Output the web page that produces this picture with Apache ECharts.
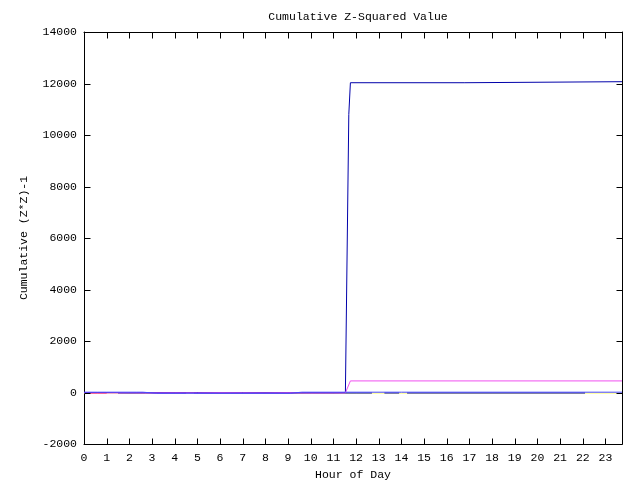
<!DOCTYPE html>
<html>
<head>
<meta charset="utf-8">
<script src="https://cdn.jsdelivr.net/npm/echarts@6/dist/echarts.min.js"></script>
<style>html,body{margin:0;padding:0;background:#fff}#c{width:640px;height:480px}</style>
</head>
<body>
<div id="c"></div>
<script>
// ---- data (hour of day, cumulative value) ----
const titleText = 'Cumulative Z-Squared Value';
const xName = 'Hour of Day';
const yName = 'Cumulative (Z*Z)-1';
const xTickLabels = ['0','1','2','3','4','5','6','7','8','9','10','11','12','13','14','15','16','17','18','19','20','21','22','23'];
const yTickValues = [-2000, 0, 2000, 4000, 6000, 8000, 10000, 12000, 14000];
const xMin = 0, xMax = 23.73, yMin = -2000, yMax = 14000;

const mainHours  = [0, 2, 4, 6, 8, 10, 11, 11.53, 11.68, 11.75, 16.8, 16.82, 23.73];
const mainValues = [0, -5, -5, -8, -8, -5, -5, 0, 10800, 12030, 12030, 12070, 12070];

const magentaHours  = [0, 1, 2, 3, 4, 5, 6, 7, 8, 9, 10, 11, 11.53, 11.75, 23.73];
const magentaValues = [-18, -18, -12, -18, -15, -18, -12, -15, -18, -12, -18, -15, -15, 450, 450];

const lightBlueHours  = [0, 0.6, 1.0, 2.3, 2.6, 3.2, 9.1, 9.6, 11.53, 14, 18, 23.73];
const lightBlueValues = [12, 12, 12, 12, 12, -30, -30, 12, 12, 12, 12, 12];

const navyHours  = [1.5, 2.6, 2.7, 4.5, 4.55, 4.8, 4.85, 9.3, 12.0, 12.7, 12.75, 13.2, 13.25, 13.9, 13.95, 14.2, 14.25, 22.1];
const navyValues = [-20, -20, -20, -20, null, null, -20, -20, -20, -20, null, null, -20, -20, null, null, -20, -20];

const redHours  = [0.2, 0.6, 1.0, 2.5, 2.8];
const redValues = [-20, -20, -20, null, -20];

const yellowHours  = [0, 6, 12, 18, 23.73];
const yellowValues = [-25, -25, -25, -25, -25];

function pairs(xs, ys) { return xs.map((x, i) => [x, ys[i]]); }

const chart = echarts.init(document.getElementById('c'));
const font = 'Liberation Mono';
const fs = 11.5;
const tickLen = 6;
function axisCommon() {
  return {
    axisLine: {show: true, onZero: false, lineStyle: {color: '#000'}},
    axisTick: {show: false},
    splitLine: {show: false}
  };
}
function line(name, xs, ys, color) {
  return {
    name: name, type: 'line', data: pairs(xs, ys), showSymbol: false, symbol: 'none',
    lineStyle: {color: color, width: 1}, itemStyle: {color: color},
    connectNulls: false
  };
}
chart.setOption({
  animation: false,
  title: {
    text: titleText, left: 353, top: 6, textAlign: 'center',
    textStyle: {fontFamily: font, fontSize: fs, fontWeight: 'normal', color: '#000'}
  },
  grid: {left: 84, right: 18, top: 32, bottom: 36, outerBoundsMode: 'none'},
  xAxis: [
    Object.assign({
      type: 'value', position: 'bottom', min: xMin, max: xMax, interval: 1,
      name: xName, nameLocation: 'middle', nameGap: 22,
      nameTextStyle: {fontFamily: font, fontSize: fs, color: '#000'},
      axisLabel: {
        color: '#000', fontFamily: font, fontSize: fs, margin: 8, showMaxLabel: false,
        formatter: v => (Number.isInteger(v) ? xTickLabels[v] : '')
      }
    }, axisCommon()),
    Object.assign({
      type: 'value', position: 'top', min: xMin, max: xMax, interval: 1,
      axisLabel: {show: false}
    }, axisCommon())
  ],
  yAxis: [
    Object.assign({
      type: 'value', position: 'left', min: yMin, max: yMax, interval: 2000,
      name: yName, nameLocation: 'middle', nameGap: 54, nameRotate: 90,
      nameTextStyle: {fontFamily: font, fontSize: fs, color: '#000'},
      axisLabel: {color: '#000', fontFamily: font, fontSize: fs, margin: 7, formatter: v => String(v)}
    }, axisCommon()),
    Object.assign({
      type: 'value', position: 'right', min: yMin, max: yMax, interval: 2000,
      axisLabel: {show: false}
    }, axisCommon())
  ],
  series: [
    line('yellow', yellowHours, yellowValues, '#ffff70'),
    line('red', redHours, redValues, '#ff0000'),
    line('navy', navyHours, navyValues, '#0000a0'),
    line('main', mainHours, mainValues, '#0000aa'),
    line('magenta', magentaHours, magentaValues, '#f050f0'),
    line('lightblue', lightBlueHours, lightBlueValues, '#4848ff')
  ]
});

// Inward tick marks on all four sides, placed through the axes' own scales.
function px(v, dim) {
  return dim === 'x' ? chart.convertToPixel({xAxisIndex: 0}, v) : chart.convertToPixel({yAxisIndex: 0}, v);
}
const leftPx = Math.round(px(xMin, 'x')) + 0.5;
const rightPx = Math.round(px(xMax, 'x')) + 0.5;
const topPx = Math.round(px(yMax, 'y')) + 0.5;
const botPx = Math.round(px(yMin, 'y')) + 0.5;
const tickEls = [];
function seg(x1, y1, x2, y2) {
  tickEls.push({type: 'line', silent: true, z: 100,
    shape: {x1: x1, y1: y1, x2: x2, y2: y2},
    style: {stroke: '#000', lineWidth: 1}});
}
xTickLabels.map(Number).forEach(v => {
  const x = Math.round(px(v, 'x')) + 0.5;
  seg(x, botPx, x, botPx - tickLen);
  seg(x, topPx, x, topPx + tickLen);
});
yTickValues.forEach(v => {
  const y = Math.round(px(v, 'y')) + 0.5;
  seg(leftPx, y, leftPx + tickLen, y);
  seg(rightPx, y, rightPx - tickLen, y);
});
chart.setOption({graphic: {elements: tickEls}});
</script>
</body>
</html>
